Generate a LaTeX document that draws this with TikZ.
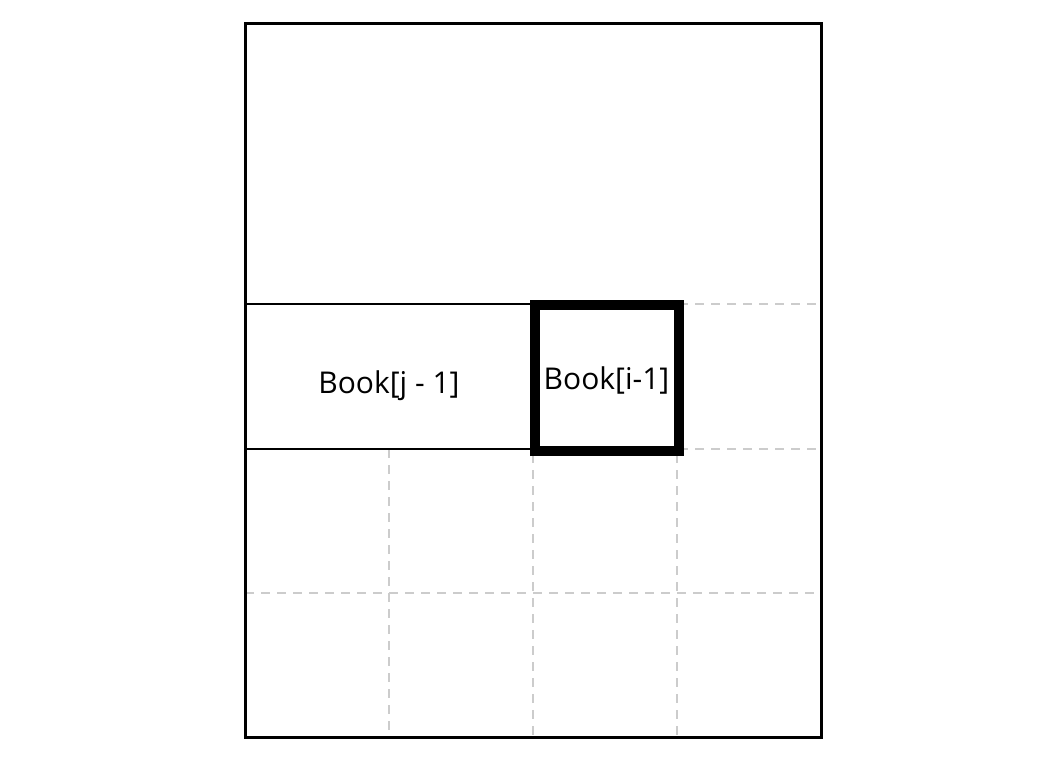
\documentclass[tikz,border=0pt]{standalone}
\usepackage{fontspec}
\setmainfont{Open Sans}
\begin{document}
\begin{tikzpicture}[x=1pt,y=-1pt,
  outerbox/.style={draw=black,line width=3pt},
  solidbox/.style={draw=black,line width=2.5pt,rectangle,inner sep=0pt,font=\fontsize{30}{34}\selectfont},
  thickbox/.style={draw=black,line width=10pt,rectangle,inner sep=0pt,font=\fontsize{30}{34}\selectfont},
  gridline/.style={draw=black!20,line width=2pt,dash pattern=on 9pt off 7pt}]
\useasboundingbox (0,0) rectangle (1056,762);
% dashed grid
\coordinate (h1a) at (679,304); \coordinate (h1b) at (821,304);
\coordinate (h2a) at (679,449); \coordinate (h2b) at (821,449);
\coordinate (h3a) at (245,593); \coordinate (h3b) at (821,593);
\coordinate (v1a) at (389,449); \coordinate (v1b) at (389,737);
\coordinate (v2a) at (533,454); \coordinate (v2b) at (533,737);
\coordinate (v3a) at (677,454); \coordinate (v3b) at (677,737);
\draw[gridline] (h1a) -- (h1b);
\draw[gridline] (h2a) -- (h2b);
\draw[gridline] (h3a) -- (h3b);
\draw[gridline] (v1a) -- (v1b);
\draw[gridline] (v2a) -- (v2b);
\draw[gridline] (v3a) -- (v3b);
% outer frame
\node[outerbox,rectangle,inner sep=0pt,minimum width=576pt,minimum height=713pt] (frame) at (533,380.5) {};
% Book boxes
\node[solidbox,minimum width=288pt,minimum height=145pt] (bj) at (389,376.5) {\raisebox{-9pt}[\height][\depth]{Book[j - 1]}};
\node[thickbox,minimum width=144pt,minimum height=146pt] (bi) at (606.5,377.5) {\raisebox{-3pt}[\height][\depth]{Book[i-1]}};
\end{tikzpicture}
\end{document}
